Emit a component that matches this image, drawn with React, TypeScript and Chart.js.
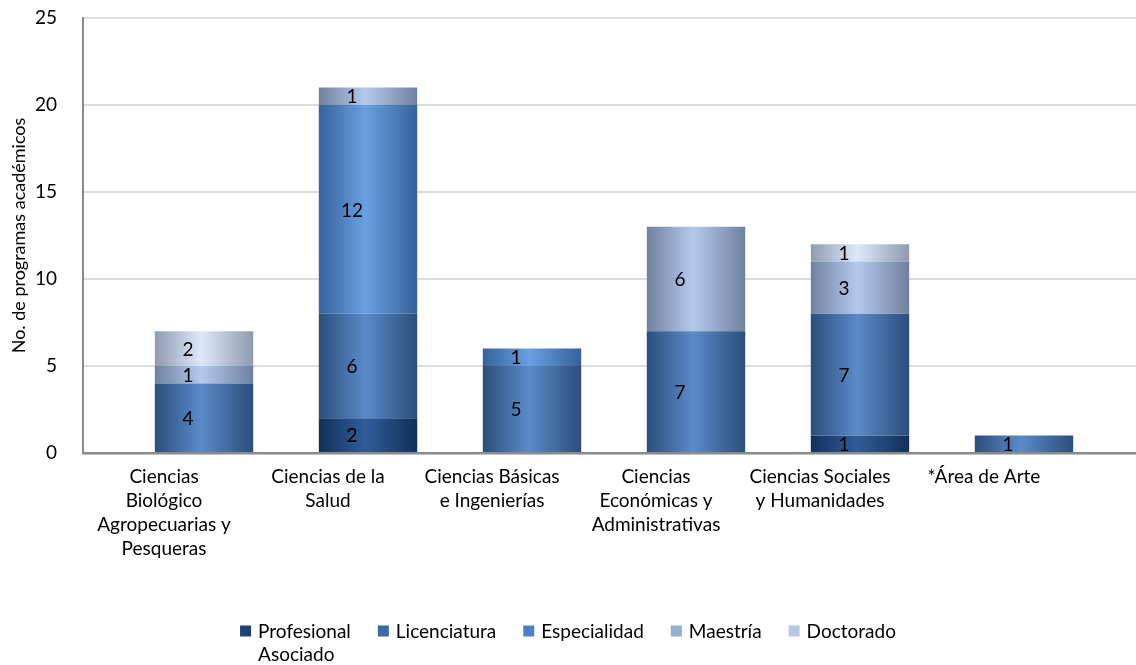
import React, { useEffect, useRef } from "react";
import { Chart, registerables } from "chart.js";

Chart.register(...registerables);

const categories = [
  "Ciencias Biológico Agropecuarias y Pesqueras",
  "Ciencias de la Salud",
  "Ciencias Básicas e Ingenierías",
  "Ciencias Económicas y Administrativas",
  "Ciencias Sociales y Humanidades",
  "*Área de Arte",
];
const categoryLines = [
  ["Ciencias", "Biológico", "Agropecuarias y", "Pesqueras"],
  ["Ciencias de la", "Salud"],
  ["Ciencias Básicas", "e Ingenierías"],
  ["Ciencias", "Económicas y", "Administrativas"],
  ["Ciencias Sociales", "y Humanidades"],
  ["*Área de Arte"],
];
const seriesNames = ["Profesional Asociado", "Licenciatura", "Especialidad", "Maestría", "Doctorado"];
const profesionalAsociado = [0, 2, 0, 0, 1, 0];
const licenciatura = [4, 6, 5, 7, 7, 1];
const especialidad = [0, 12, 1, 0, 0, 0];
const maestria = [1, 1, 0, 6, 3, 0];
const doctorado = [2, 0, 0, 0, 1, 0];
const seriesValues = [profesionalAsociado, licenciatura, especialidad, maestria, doctorado];
const yTicks = [0, 5, 10, 15, 20, 25];
const yTitle = "No. de programas académicos";

const edgeColors = ["#12305a", "#2c4e7b", "#35629a", "#6f819f", "#8e9bb0"];
const centerColors = ["#2f5d99", "#5a8bc9", "#69a0e2", "#b5c9ec", "#dde8fa"];
const legendColors = ["#1f4173", "#3b69a3", "#4c80c4", "#94abd6", "#b8c8e4"];

const FONT = "Lato, 'Open Sans', sans-serif";
const FS = 19;

const labelPlugin = {
  id: "segLabels",
  afterDatasetsDraw(chart: any) {
    const ctx = chart.ctx;
    ctx.save();
    ctx.font = `${FS}px ${FONT}`;
    ctx.fillStyle = "#000";
    ctx.textAlign = "center";
    ctx.textBaseline = "middle";
    chart.data.datasets.forEach((ds: any, di: number) => {
      const meta = chart.getDatasetMeta(di);
      meta.data.forEach((el: any, i: number) => {
        const v = seriesValues[di][i];
        if (!v) return;
        const y = (el.y + el.base) / 2;
        ctx.fillText(String(v), el.x - 16, y + 1);
      });
    });
    ctx.restore();
  },
};

const legendPlugin = {
  id: "customLegend",
  afterDraw(chart: any) {
    const ctx = chart.ctx;
    ctx.save();
    ctx.font = `${FS}px ${FONT}`;
    ctx.textBaseline = "middle";
    ctx.textAlign = "left";
    const maxW = 130;
    const items = seriesNames.map((name, i) => {
      const words = name.split(" ");
      const lines: string[] = [];
      let cur = "";
      words.forEach((w) => {
        const t = cur ? cur + " " + w : w;
        if (cur && ctx.measureText(t).width > maxW) {
          lines.push(cur);
          cur = w;
        } else cur = t;
      });
      if (cur) lines.push(cur);
      return { lines, color: legendColors[i] };
    });
    const box = 11;
    const gapText = 7;
    const gapItem = 27;
    const widths = items.map(
      (it) => box + gapText + Math.max(...it.lines.map((l) => ctx.measureText(l).width))
    );
    const total = widths.reduce((a, b) => a + b, 0) + gapItem * (items.length - 1);
    let x = chart.width / 2 - total / 2;
    const y0 = 631;
    const lh = 23;
    items.forEach((it, i) => {
      ctx.fillStyle = it.color;
      ctx.fillRect(x, y0 - box / 2, box, box);
      ctx.fillStyle = "#000";
      it.lines.forEach((l, li) => ctx.fillText(l, x + box + gapText, y0 + li * lh + 1));
      x += widths[i] + gapItem;
    });
    ctx.restore();
  },
};

function makeGradient(di: number) {
  return (c: any) => {
    const chart = c.chart;
    if (!chart.chartArea || c.type !== "data") return legendColors[di];
    const xs = chart.scales.x;
    const cx = xs.getPixelForValue(c.dataIndex);
    const half = ((xs.getPixelForValue(1) - xs.getPixelForValue(0)) * 0.6) / 2;
    const g = chart.ctx.createLinearGradient(cx - half, 0, cx + half, 0);
    g.addColorStop(0, edgeColors[di]);
    g.addColorStop(0.47, centerColors[di]);
    g.addColorStop(1, edgeColors[di]);
    return g;
  };
}

export default function App() {
  const ref = useRef<HTMLCanvasElement>(null);
  useEffect(() => {
    if (!ref.current) return;
    const chart = new Chart(ref.current, {
      type: "bar",
      data: {
        datasets: seriesNames.map((name, di) => ({
          label: name,
          data: seriesValues[di].map((v, i) => ({ x: i, y: v })),
          backgroundColor: makeGradient(di),
          borderWidth: 0,
          barPercentage: 0.6,
          categoryPercentage: 1,
        })),
      },
      options: {
        animation: false,
        responsive: true,
        maintainAspectRatio: false,
        layout: { padding: { top: 18, right: 0, bottom: 0, left: 0 } },
        plugins: { legend: { display: false }, tooltip: { enabled: false } },
        scales: {
          x: {
            type: "linear",
            stacked: true,
            offset: false,
            min: -0.738,
            max: 5.683,
            afterBuildTicks: (s: any) => {
              s.ticks = categories.map((_, i) => ({ value: i }));
            },
            afterFit: (s: any) => {
              s.height = 212;
            },
            grid: { display: false, drawTicks: false, offset: false },
            border: { display: true, color: "#8a8a8a", width: 2.5 },
            ticks: {
              autoSkip: false,
              maxRotation: 0,
              minRotation: 0,
              padding: 12,
              labelOffset: -40,
              color: "#000",
              font: { family: FONT, size: FS, lineHeight: 24 / FS },
              callback: (v: any) => categoryLines[v] ?? "",
            },
          },
          y: {
            stacked: true,
            min: 0,
            max: 25,
            afterBuildTicks: (s: any) => {
              s.ticks = yTicks.map((v) => ({ value: v }));
            },
            afterFit: (s: any) => {
              s.width = 83;
              s.paddingTop = 10;
              s.paddingBottom = 10;
            },
            grid: { color: "#dcdcdc", lineWidth: 2, drawTicks: false },
            border: { display: true, color: "#8a8a8a", width: 2 },
            ticks: {
              padding: 26,
              color: "#000",
              font: { family: FONT, size: FS },
            },
            title: {
              display: true,
              text: yTitle,
              color: "#000",
              padding: { top: 8, bottom: 0 },
              font: { family: FONT, size: 18 },
            },
          },
        },
      },
      plugins: [labelPlugin, legendPlugin],
    } as any);
    return () => chart.destroy();
  }, []);
  return (
    <div style={{ position: "fixed", left: 0, top: 0, width: 1136, height: 665, background: "#fff" }}>
      <canvas ref={ref} />
    </div>
  );
}
